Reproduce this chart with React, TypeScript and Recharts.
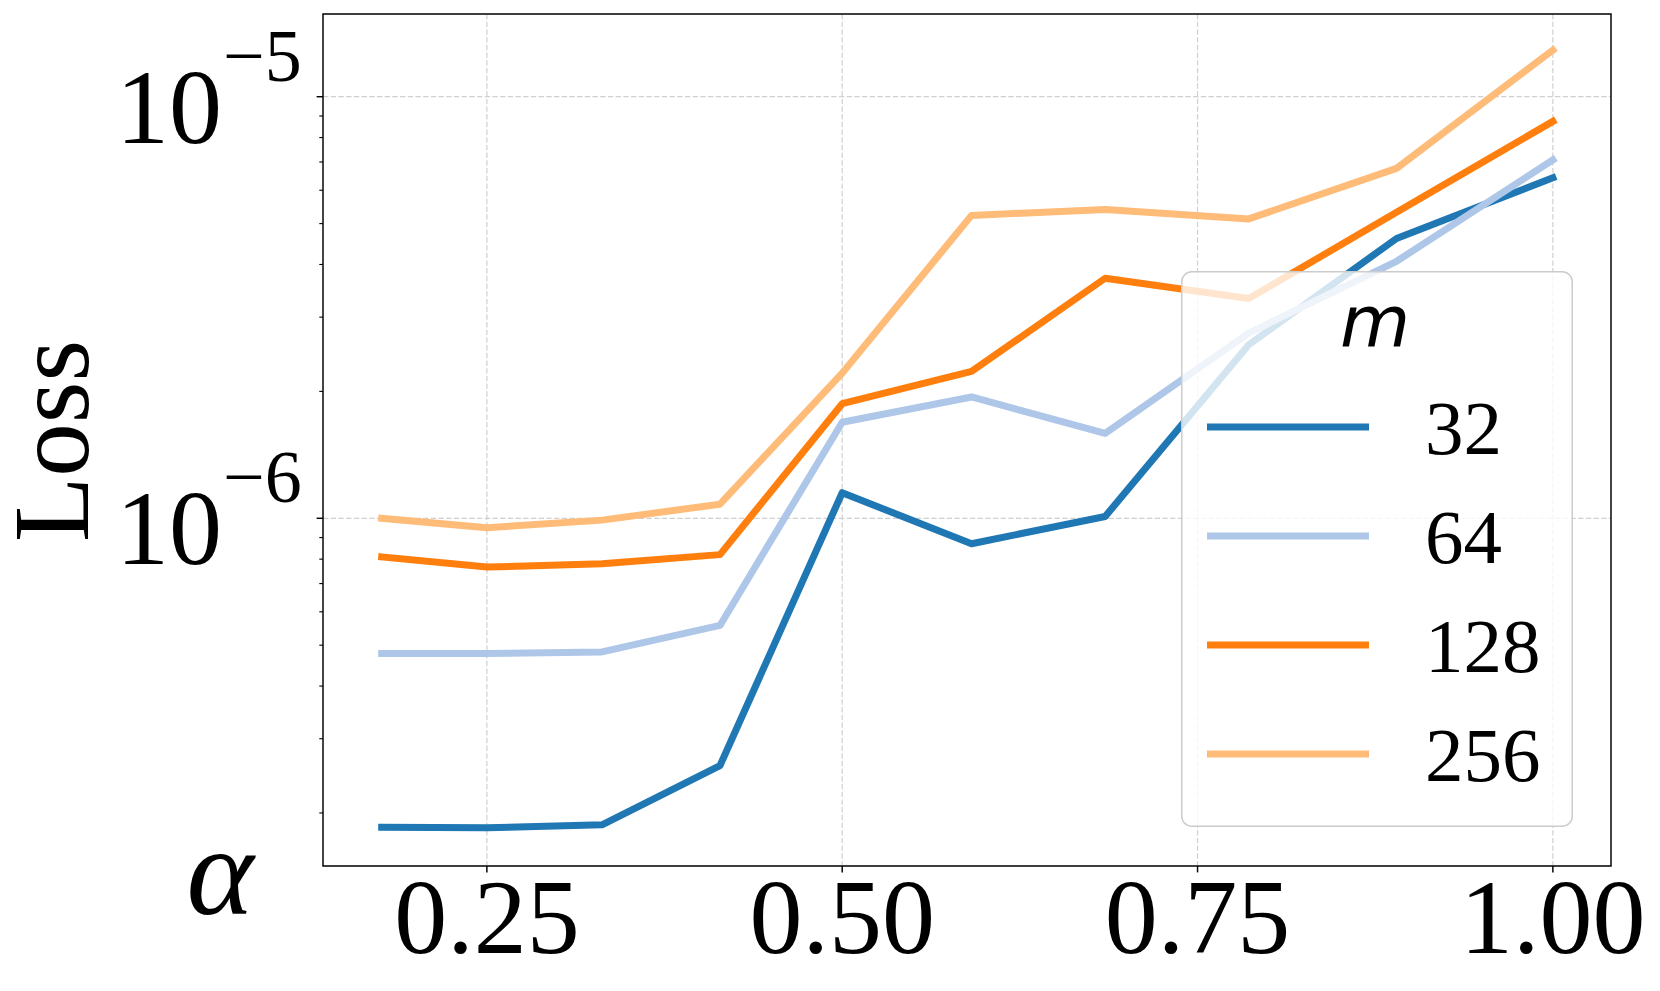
import { LineChart, Line, XAxis, YAxis, CartesianGrid, ReferenceArea, Legend } from 'recharts';

const SERIF = '"Liberation Serif", "Times New Roman", serif';

const alpha = [0.176, 0.25, 0.331, 0.414, 0.5, 0.591, 0.685, 0.786, 0.89, 1.0];
const loss32 = [1.85e-7, 1.845e-7, 1.875e-7, 2.59e-7, 1.15e-6, 8.7e-7, 1.01e-6, 2.58e-6, 4.61e-6, 6.42e-6];
const loss64 = [4.78e-7, 4.78e-7, 4.82e-7, 5.57e-7, 1.69e-6, 1.94e-6, 1.59e-6, 2.75e-6, 4.07e-6, 7.08e-6];
const loss128 = [8.1e-7, 7.66e-7, 7.8e-7, 8.2e-7, 1.87e-6, 2.23e-6, 3.71e-6, 3.32e-6, 5.32e-6, 8.74e-6];
const loss256 = [1.0e-6, 9.5e-7, 9.9e-7, 1.08e-6, 2.21e-6, 5.23e-6, 5.4e-6, 5.13e-6, 6.76e-6, 1.29e-5];

const seriesKeys = ['m32', 'm64', 'm128', 'm256'];
const seriesNames = ['32', '64', '128', '256'];
const seriesColors = ['#1f77b4', '#aec7e8', '#ff7f0e', '#ffbb78'];

const xTicks = [0.25, 0.5, 0.75, 1.0];
const yMajor = [1e-6, 1e-5];
const yMinor = [2e-7, 3e-7, 4e-7, 5e-7, 6e-7, 7e-7, 8e-7, 9e-7, 2e-6, 3e-6, 4e-6, 5e-6, 6e-6, 7e-6, 8e-6, 9e-6];
const xDomain = [0.1347, 1.0409];
const yDomain = [1.497e-7, 1.571e-5];

const data = alpha.map((a, i) => ({
  alpha: a,
  m32: loss32[i],
  m64: loss64[i],
  m128: loss128[i],
  m256: loss256[i],
}));

function XTick(props: any) {
  const { x, y, payload } = props;
  return (
    <text x={x} y={y + 79} textAnchor="middle" fontFamily={SERIF} fontSize={106} fill="#000">
      {Number(payload.value).toFixed(2)}
    </text>
  );
}

function YTick(props: any) {
  const { x, y, payload } = props;
  const exp = Math.log10(payload.value);
  const major = Math.abs(exp - Math.round(exp)) < 1e-6;
  return (
    <g>
      <line
        x1={x - (major ? 6.4 : 3.7)}
        x2={x}
        y1={y}
        y2={y}
        stroke="#000"
        strokeWidth={major ? 1.46 : 1.1}
      />
      {major && (
        <>
          <text x={x - 101} y={y + 46} textAnchor="end" fontFamily={SERIF} fontSize={106} fill="#000">
            10
          </text>
          <text x={x - 100} y={y - 16} textAnchor="start" fontFamily={SERIF} fontSize={74} fill="#000">
            {'\u2212' + Math.abs(Math.round(exp))}
          </text>
        </>
      )}
    </g>
  );
}

function LossLabel(props: any) {
  const { viewBox } = props;
  const cy = viewBox.y + viewBox.height / 2 + 1;
  return (
    <text
      x={88}
      y={cy}
      transform={`rotate(-90, 88, ${cy})`}
      textAnchor="middle"
      fontFamily={SERIF}
      fontSize={107}
      fill="#000"
    >
      Loss
    </text>
  );
}

function AlphaLabel(props: any) {
  const { viewBox } = props;
  return (
    <text
      x={viewBox.x - 103}
      y={viewBox.y + 48}
      textAnchor="middle"
      fontFamily={SERIF}
      fontStyle="italic"
      fontSize={128}
      fill="#000"
    >
      α
    </text>
  );
}

function LegendBox(props: any) {
  const { payload = [] } = props;
  const items = [...payload].sort(
    (a: any, b: any) => seriesNames.indexOf(String(a.value)) - seriesNames.indexOf(String(b.value)),
  );
  return (
    <svg width={392} height={556} style={{ display: 'block' }}>
      <rect
        x={0.75}
        y={0.75}
        width={390.5}
        height={554.5}
        rx={10}
        fill="#fff"
        fillOpacity={0.8}
        stroke="#cccccc"
        strokeWidth={1.5}
      />
      <text x={194} y={75} textAnchor="middle" fontFamily='"DejaVu Sans", sans-serif' fontStyle="italic" fontSize={72} fill="#000">
        m
      </text>
      {items.map((p: any, i: number) => {
        const cy = 156 + i * 109;
        return (
          <g key={p.value}>
            <line x1={26} x2={188} y1={cy} y2={cy} stroke={p.color} strokeWidth={7} />
            <text x={244} y={cy + 27} fontFamily={SERIF} fontSize={77} fill="#000">
              {p.value}
            </text>
          </g>
        );
      })}
    </svg>
  );
}

export default function App() {
  return (
    <div style={{ position: 'absolute', left: 0, top: 0, width: 1660, height: 991, background: '#fff' }}>
      <LineChart width={1660} height={991} data={data} margin={{ top: 14, right: 49, bottom: 0, left: 0 }}>
        <CartesianGrid
          stroke="#d0d0d0"
          strokeWidth={1.2}
          strokeDasharray="5.4 2.3"
          horizontalValues={yMajor}
          verticalValues={xTicks}
        />
        <XAxis
          dataKey="alpha"
          type="number"
          domain={xDomain}
          allowDataOverflow
          ticks={xTicks}
          interval={0}
          height={125}
          tickSize={6.4}
          tickLine={{ stroke: '#000', strokeWidth: 1.46 }}
          axisLine={false}
          tick={<XTick />}
          label={AlphaLabel}
        />
        <YAxis
          type="number"
          scale="log"
          domain={yDomain}
          allowDataOverflow
          ticks={[...yMinor, ...yMajor].sort((a, b) => a - b)}
          interval={0}
          width={323}
          tickSize={0}
          tickMargin={0}
          tickLine={false}
          axisLine={false}
          tick={<YTick />}
          label={LossLabel}
        />
        <ReferenceArea
          x1={xDomain[0]}
          x2={xDomain[1]}
          y1={yDomain[0]}
          y2={yDomain[1]}
          fill="none"
          fillOpacity={0}
          stroke="#000"
          strokeWidth={1.46}
          ifOverflow="visible"
        />
        {seriesKeys.map((k, i) => (
          <Line
            key={k}
            type="linear"
            dataKey={k}
            name={seriesNames[i]}
            stroke={seriesColors[i]}
            strokeWidth={7}
            strokeLinecap="square"
            strokeLinejoin="round"
            dot={false}
            activeDot={false}
            isAnimationActive={false}
          />
        ))}
        <Legend
          layout="horizontal"
          verticalAlign="middle"
          align="center"
          wrapperStyle={{ left: 1181, top: 271, width: 392, height: 556 }}
          content={<LegendBox />}
        />
      </LineChart>
    </div>
  );
}
